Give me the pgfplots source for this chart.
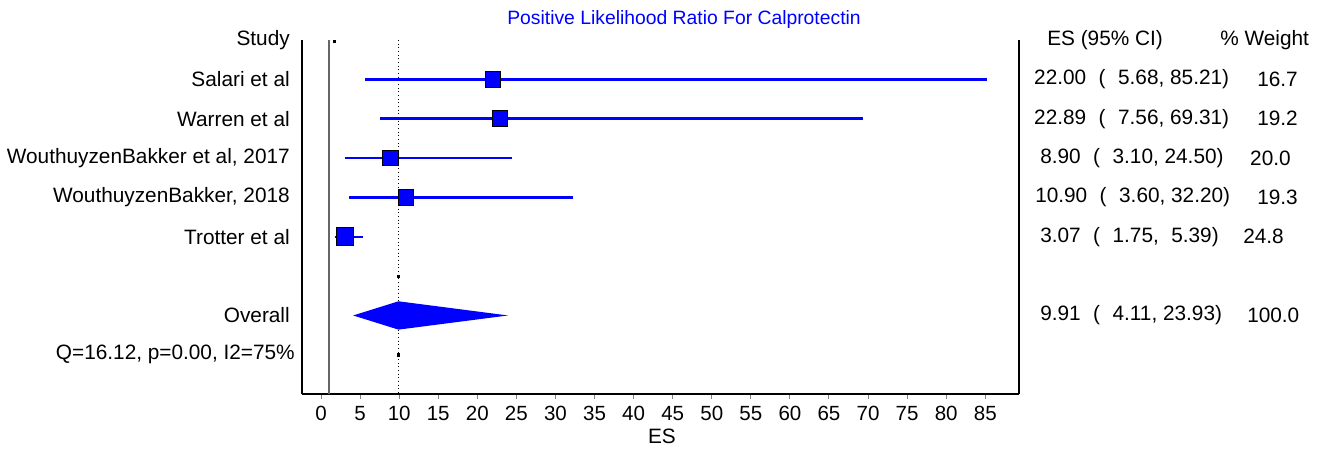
\documentclass[border=0pt]{standalone}
\usepackage{fontspec}
\setmainfont{Liberation Sans}
\usepackage{pgfplots}
\pgfplotsset{compat=1.18}
\newcommand\gap{\hspace{0.6em}}
\begin{document}
\begin{tikzpicture}[font=\fontsize{15.6}{18}\selectfont]
\begin{axis}[
  scale only axis, width=537.75pt, height=265.7pt,
  xmin=-2.43, xmax=89.3, ymin=-9, ymax=0,
  axis x line*=bottom, axis y line*=left,
  axis line style={-, line width=1.5pt, black},
  xtick={0,5,...,85}, ytick=\empty,
  tick align=outside, major tick length=3.75pt,
  x tick style={gray, line width=0.75pt},
  clip=false,
  /pgf/number format/assume math mode=true,
  xticklabel style={font=\fontsize{15.4}{18}\selectfont, text=black, yshift=-1.5pt},
]
% bounding box
\path (axis cs:-41.08,1.016) rectangle (axis cs:128.47,-10.516);
\draw[line width=1.5pt] (rel axis cs:1,0) -- (rel axis cs:1,1);
% null line and pooled line
\addplot[color=black!60, line width=1.1pt] coordinates {(1,0) (1,-9)};
\addplot[black, dotted, line width=0.75pt] coordinates {(9.91,0) (9.91,-9)};
% CIs
\addplot[blue, line width=1.8pt] coordinates {(5.68,-1) (85.21,-1)};
\addplot[blue, line width=1.8pt] coordinates {(7.56,-2) (69.31,-2)};
\addplot[blue, line width=1.8pt] coordinates {(3.10,-3) (24.50,-3)};
\addplot[blue, line width=1.8pt] coordinates {(3.60,-4) (32.20,-4)};
\addplot[blue, line width=1.8pt] coordinates {(1.75,-5) (5.39,-5)};
% squares
\addplot[only marks, mark=square*, mark size=5.8pt, mark options={fill=blue, draw=black, line width=0.75pt}] coordinates {(22.00,-1)};
\addplot[only marks, mark=square*, mark size=5.9pt, mark options={fill=blue, draw=black, line width=0.75pt}] coordinates {(22.89,-2)};
\addplot[only marks, mark=square*, mark size=5.9pt, mark options={fill=blue, draw=black, line width=0.75pt}] coordinates {(8.90,-3)};
\addplot[only marks, mark=square*, mark size=5.8pt, mark options={fill=blue, draw=black, line width=0.75pt}] coordinates {(10.90,-4)};
\addplot[only marks, mark=square*, mark size=6.6pt, mark options={fill=blue, draw=black, line width=0.75pt}] coordinates {(3.07,-5)};
% diamond
\addplot[fill=blue, draw=none] coordinates {(4.11,-7) (9.91,-6.64) (23.93,-7) (9.91,-7.36)} -- cycle;
% small dots
\addplot[only marks, mark=square*, mark size=0.8pt, black] coordinates {(9.91,-6) (9.91,-8) (1.66,-0.03)};
% left labels
\node[anchor=east, inner sep=0] at (axis cs:-3.97,0) {Study};
\node[anchor=east, inner sep=0] at (axis cs:-3.97,-1) {Salari et al};
\node[anchor=east, inner sep=0] at (axis cs:-3.97,-2) {Warren et al};
\node[anchor=east, inner sep=0] at (axis cs:-3.97,-3) {WouthuyzenBakker et al, 2017};
\node[anchor=east, inner sep=0] at (axis cs:-3.97,-4) {WouthuyzenBakker, 2018};
\node[anchor=east, inner sep=0] at (axis cs:-3.97,-5) {Trotter et al};
\node[anchor=east, inner sep=0] at (axis cs:-3.97,-7) {Overall};
\node[anchor=east, inner sep=0] at (axis cs:-3.33,-8) {Q=16.12, p=0.00, I2=75\%};
% right columns
\node[anchor=west, inner sep=0] at (axis cs:92.90,0) {ES (95\% CI)};
\node[anchor=west, inner sep=0] at (axis cs:91.23,-1) {22.00\gap(\gap5.68, 85.21)};
\node[anchor=west, inner sep=0] at (axis cs:91.23,-2) {22.89\gap(\gap7.56, 69.31)};
\node[anchor=west, inner sep=0] at (axis cs:92.00,-3) {8.90\gap(\gap3.10, 24.50)};
\node[anchor=west, inner sep=0] at (axis cs:91.36,-4) {10.90\gap(\gap3.60, 32.20)};
\node[anchor=west, inner sep=0] at (axis cs:92.00,-5) {3.07\gap(\gap1.75,\gap5.39)};
\node[anchor=west, inner sep=0] at (axis cs:92.00,-7) {9.91\gap(\gap4.11, 23.93)};
\node[anchor=west, inner sep=0] at (axis cs:115.04,0) {\% Weight};
\node[anchor=west, inner sep=0] at (axis cs:119.77,-1) {16.7};
\node[anchor=west, inner sep=0] at (axis cs:119.77,-2) {19.2};
\node[anchor=west, inner sep=0] at (axis cs:118.87,-3) {20.0};
\node[anchor=west, inner sep=0] at (axis cs:119.77,-4) {19.3};
\node[anchor=west, inner sep=0] at (axis cs:117.98,-5) {24.8};
\node[anchor=west, inner sep=0] at (axis cs:118.49,-7) {100.0};
% title and x label
\node[text=blue, inner sep=0, font=\fontsize{14.5}{17}\selectfont] at (axis cs:46.45,0.508) {Positive Likelihood Ratio For Calprotectin};
\node[inner sep=0] at (axis cs:43.63,-10.08) {ES};
\end{axis}
\end{tikzpicture}
\end{document}
